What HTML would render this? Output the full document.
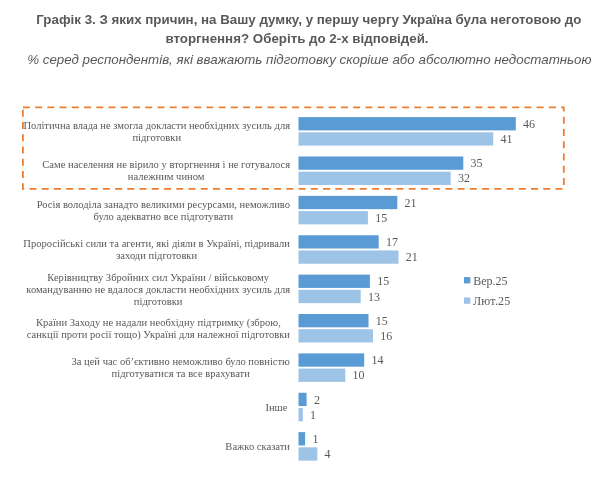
<!DOCTYPE html>
<html lang="uk"><head><meta charset="utf-8"><title>Графік 3</title>
<style>
html,body{margin:0;padding:0;background:#fff;}
body{width:600px;height:482px;position:relative;overflow:hidden;font-family:"Liberation Serif",serif;color:#595959;}
.t{position:absolute;white-space:nowrap;font-family:"Liberation Sans",sans-serif;font-size:13.33px;line-height:18px;color:#595959;}
.b{font-weight:bold;}
.i{font-style:italic;}
svg{position:absolute;left:0;top:0;}
.d{fill:#5b9bd5;}
.l{fill:#9dc3e6;}
.v{position:absolute;font-size:12px;line-height:14px;white-space:nowrap;color:#595959;}
.lab{position:absolute;left:0;width:290px;text-align:right;font-size:10.55px;line-height:12.1px;color:#595959;}
.lab span{display:inline-block;text-align:center;white-space:nowrap;}
.leg{position:absolute;font-size:12px;line-height:14px;white-space:nowrap;}
</style></head><body>
<div class="t b" style="left:36.3px;top:11px;">Графік 3. З яких причин, на Вашу думку, у першу чергу Україна була неготовою до</div>
<div class="t b" style="left:165.4px;top:29.8px;">вторгнення? Оберіть до 2-х відповідей.</div>
<div class="t i" style="left:27.2px;top:51.3px;">% серед респондентів, які вважають підготовку скоріше або абсолютно недостатньою</div>

<svg width="600" height="482" viewBox="0 0 600 482">
<rect x="22.9" y="107.3" width="540.9" height="81.6" fill="none" stroke="#ed7d31" stroke-width="1.8" stroke-dasharray="7 5.232"/>
<rect class="d" x="298.5" y="117.10" width="217.3" height="13.3"/>
<rect class="l" x="298.5" y="132.30" width="194.7" height="13.3"/>
<rect class="d" x="298.5" y="156.48" width="164.8" height="13.3"/>
<rect class="l" x="298.5" y="171.68" width="152.2" height="13.3"/>
<rect class="d" x="298.5" y="195.86" width="98.8" height="13.3"/>
<rect class="l" x="298.5" y="211.06" width="69.4" height="13.3"/>
<rect class="d" x="298.5" y="235.24" width="80.2" height="13.3"/>
<rect class="l" x="298.5" y="250.44" width="100.0" height="13.3"/>
<rect class="d" x="298.5" y="274.62" width="71.4" height="13.3"/>
<rect class="l" x="298.5" y="289.82" width="62.2" height="13.3"/>
<rect class="d" x="298.5" y="314.00" width="70.0" height="13.3"/>
<rect class="l" x="298.5" y="329.20" width="74.4" height="13.3"/>
<rect class="d" x="298.5" y="353.38" width="65.7" height="13.3"/>
<rect class="l" x="298.5" y="368.58" width="46.8" height="13.3"/>
<rect class="d" x="298.5" y="392.76" width="8.1" height="13.3"/>
<rect class="l" x="298.5" y="407.96" width="4.3" height="13.3"/>
<rect class="d" x="298.5" y="432.14" width="6.6" height="13.3"/>
<rect class="l" x="298.5" y="447.34" width="18.8" height="13.3"/>
<rect class="d" x="464" y="277.1" width="6.3" height="6.3"/>
<rect class="l" x="464" y="297.5" width="6.3" height="6.3"/>
</svg>
<div class="lab" style="top:119.99px"><span>Політична влада не змогла докласти необхідних зусиль для<br>підготовки</span></div>
<div class="v" style="top:116.85px;left:523.1px">46</div>
<div class="v" style="top:132.05px;left:500.5px">41</div>
<div class="lab" style="top:159.37px"><span>Саме населення не вірило у вторгнення і не готувалося<br>належним чином</span></div>
<div class="v" style="top:156.23px;left:470.6px">35</div>
<div class="v" style="top:171.43px;left:458.0px">32</div>
<div class="lab" style="top:198.75px"><span>Росія володіла занадто великими ресурсами, неможливо<br>було адекватно все підготувати</span></div>
<div class="v" style="top:195.61px;left:404.6px">21</div>
<div class="v" style="top:210.81px;left:375.2px">15</div>
<div class="lab" style="top:238.13px"><span>Проросійські сили та агенти, які діяли в Україні, підривали<br>заходи підготовки</span></div>
<div class="v" style="top:234.99px;left:386.0px">17</div>
<div class="v" style="top:250.19px;left:405.8px">21</div>
<div class="lab" style="top:271.86px"><span>Керівництву Збройних сил України / військовому<br>командуванню не вдалося докласти необхідних зусиль для<br>підготовки</span></div>
<div class="v" style="top:274.37px;left:377.2px">15</div>
<div class="v" style="top:289.57px;left:368.0px">13</div>
<div class="lab" style="top:316.89px"><span>Країни Заходу не надали необхідну підтримку (зброю,<br>санкції проти росії тощо) Україні для належної підготовки</span></div>
<div class="v" style="top:313.75px;left:375.8px">15</div>
<div class="v" style="top:328.95px;left:380.2px">16</div>
<div class="lab" style="top:356.27px"><span>За цей час об’єктивно неможливо було повністю<br>підготуватися та все врахувати</span></div>
<div class="v" style="top:353.13px;left:371.5px">14</div>
<div class="v" style="top:368.33px;left:352.6px">10</div>
<div class="lab" style="top:402.10px"><span>Інше&nbsp;</span></div>
<div class="v" style="top:392.51px;left:313.9px">2</div>
<div class="v" style="top:407.71px;left:310.1px">1</div>
<div class="lab" style="top:441.48px"><span>Важко сказати</span></div>
<div class="v" style="top:431.89px;left:312.4px">1</div>
<div class="v" style="top:447.09px;left:324.6px">4</div>
<div class="leg" style="left:473.2px;top:273.6px">Вер.25</div>
<div class="leg" style="left:473px;top:294.3px;letter-spacing:0.2px">Лют.25</div>
</body></html>
